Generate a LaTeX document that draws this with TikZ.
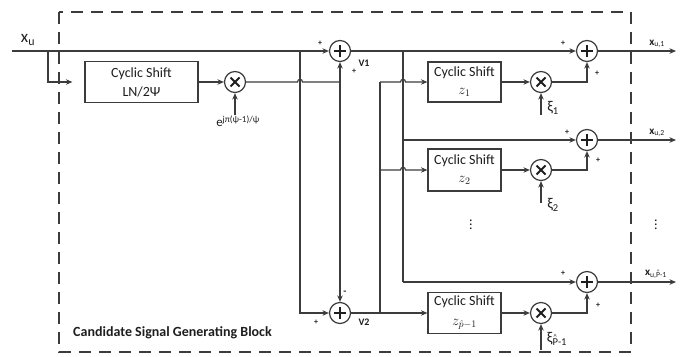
\documentclass[tikz,border=0pt]{standalone}
\usepackage{fontspec}
\setmainfont{Carlito}
\usetikzlibrary{arrows.meta}
\definecolor{lc}{HTML}{3C3C3C}
\definecolor{tc}{HTML}{1E1E1E}
\newcommand\myhatP{\ooalign{P\cr\hidewidth\raisebox{0.5em}{\scalebox{0.7}{\textasciicircum}}\hidewidth\cr}}
\tikzset{
  wire/.style={draw=lc, line width=1.2pt},
  arr/.style={wire, -{Stealth[length=6.5pt,width=5.5pt]}},
  stepbox/.style={draw=lc, line width=1.2pt, fill=white, align=center, inner sep=0pt,
    font=\fontsize{14}{19}\selectfont, text=tc},
  sumnode/.style={circle, draw=lc, fill=white, line width=1.2pt, minimum size=21pt, inner sep=0pt,
    path picture={\draw[line width=1.8pt, tc] (path picture bounding box.center) ++(-6pt,0) -- ++(12pt,0)
      (path picture bounding box.center) ++(0,-6pt) -- ++(0,12pt);}},
  mulnode/.style={circle, draw=lc, fill=white, line width=1.2pt, minimum size=21pt, inner sep=0pt,
    path picture={\draw[line width=1.8pt, tc] (path picture bounding box.center) ++(-4.5pt,-4.5pt) -- ++(9pt,9pt)
      (path picture bounding box.center) ++(-4.5pt,4.5pt) -- ++(9pt,-9pt);}},
  sgn/.style={font=\fontsize{8}{8}\selectfont\bfseries, text=tc, inner sep=0pt},
  lab/.style={font=\fontsize{10}{10}\selectfont\bfseries, text=tc, inner sep=0pt},
  outlab/.style={font=\fontsize{11}{11}\selectfont, text=tc, inner sep=0pt},
  greek/.style={font=\fontsize{15}{15}\selectfont, text=tc, inner sep=0pt},
}
\begin{document}
\begin{tikzpicture}[x=1pt,y=-1pt]
\useasboundingbox (0,0) rectangle (684,356);
% dashed frame
\draw[draw=lc, line width=1.2pt, dash pattern=on 12pt off 8pt] (59,12) rectangle (631,352);
\node[anchor=west, font=\fontsize{14}{14}\selectfont\bfseries, text=tc, inner sep=0pt] (blk) at (73,333) {Candidate Signal Generating Block};

% nodes
\node[stepbox, minimum width=113pt, minimum height=41pt] (B0) at (141.5,82) {Cyclic Shift\\LN/2Ψ};
\node[mulnode] (M0) at (235,82) {};
\node[sumnode] (V1) at (340,51) {};
\node[sumnode] (V2) at (340,313) {};
\node[stepbox, minimum width=73pt, minimum height=40pt] (B1) at (464.5,82) {Cyclic Shift\\[-1pt]$z_1$};
\node[stepbox, minimum width=73pt, minimum height=42pt] (B2) at (464.5,170) {Cyclic Shift\\[-1pt]$z_2$};
\node[stepbox, minimum width=73pt, minimum height=41pt] (B3) at (464.5,313) {Cyclic Shift\\[1pt]$z_{\hat{p}-1}$};
\node[mulnode] (M1) at (541,82) {};
\node[mulnode] (M2) at (541,170) {};
\node[mulnode] (M3) at (541,313) {};
\node[sumnode] (S1) at (587,51) {};
\node[sumnode] (S2) at (587,140) {};
\node[sumnode] (S3) at (587,282) {};

% coordinates
\coordinate (Xin) at (12,51);
\coordinate (j48) at (48,51);
\coordinate (j300) at (300,51);
\coordinate (h300) at (300,82);
\coordinate (j340) at (340,82);
\coordinate (j380) at (380,313);
\coordinate (c380) at (380,82);
\coordinate (j380b) at (380,170);
\coordinate (h403a) at (403,82);
\coordinate (h403b) at (403,170);
\coordinate (j403) at (403,51);
\coordinate (j403b) at (403,140);
\coordinate (c403) at (403,282);
\coordinate (eS) at (235,115);
\coordinate (x1S) at (541,115);
\coordinate (x2S) at (541,203);
\coordinate (x3S) at (541,350);
\coordinate (o1) at (676,51);
\coordinate (o2) at (676,140);
\coordinate (o3) at (676,282);

% connectors
\draw[arr] (Xin) -- (V1);
\draw[arr, shorten >=12pt] (j48) |- (B0.west);
\draw[arr] (B0) -- (M0);
\draw[arr] (eS) -- (M0);
\draw[wire] (M0) -- ([xshift=-2.5pt]h300) .. controls +(0,3.5pt) and +(0,3.5pt) .. ([xshift=2.5pt]h300) -- (j340);
\draw[arr] (j340) -- (V1);
\draw[arr] (j340) -- (V2);
\draw[arr] (j300) |- (V2);
\draw[arr] (V2) -- (B3);
\draw[wire] (j380) -- (c380);
\draw[arr] (c380) -- ([xshift=-2.5pt]h403a) .. controls +(0,3.5pt) and +(0,3.5pt) .. ([xshift=2.5pt]h403a) -- (B1);
\draw[arr] (j380b) -- ([xshift=-2.5pt]h403b) .. controls +(0,3.5pt) and +(0,3.5pt) .. ([xshift=2.5pt]h403b) -- (B2);
\draw[arr] (V1) -- (S1);
\draw[wire] (j403) -- (c403);
\draw[arr] (j403b) -- (S2);
\draw[arr] (c403) -- (S3);
\draw[arr] (B1) -- (M1);
\draw[arr] (B2) -- (M2);
\draw[arr] (B3) -- (M3);
\draw[arr] (x1S) -- (M1);
\draw[arr] (x2S) -- (M2);
\draw[arr] (x3S) -- (M3);
\draw[arr] (M1) -| (S1);
\draw[arr] (M2) -| (S2);
\draw[arr] (M3) -| (S3);
\draw[arr] (S1) -- (o1);
\draw[arr] (S2) -- (o2);
\draw[arr] (S3) -- (o3);

% labels
\node[font=\fontsize{17}{17}\selectfont, text=tc, inner sep=0pt] (xu) at (28,40) {x\textsubscript{u}};
\node[font=\fontsize{13}{13}\selectfont, text=tc, inner sep=0pt] (elab) at (238,121) {e\textsuperscript{jπ(ψ-1)/ψ}};
\node[sgn] (p1) at (320,43) {+};
\node[sgn] (p2) at (354,71) {+};
\node[lab] (v1l) at (364,63) {V1};
\node[sgn, font=\fontsize{10}{10}\selectfont\bfseries] (m2) at (345,293) {-};
\node[sgn] (p3) at (316,322) {+};
\node[lab] (v2l) at (364,322) {V2};
\node[sgn] (q1) at (563,43) {+};
\node[sgn] (q2) at (597,73) {+};
\node[sgn] (q3) at (567,132) {+};
\node[sgn] (q4) at (598,160) {+};
\node[sgn] (q5) at (563,273) {+};
\node[sgn] (q6) at (598,305) {+};
\node[greek] (xi1) at (553,108) {ξ\textsubscript{1}};
\node[greek] (xi2) at (553,205) {ξ\textsubscript{2}};
\node[greek] (xi3) at (557,339) {ξ\textsubscript{\myhatP-1}};
\node[outlab] (ol1) at (657,44) {\textbf{x}\textsubscript{u,1}};
\node[outlab] (ol2) at (657,133) {\textbf{x}\textsubscript{u,2}};
\node[outlab] (ol3) at (656,274) {\textbf{x}\textsubscript{u,\myhatP-1}};
\node[font=\fontsize{14}{14}\selectfont, text=tc, inner sep=0pt] (d1) at (471,222) {$\vdots$};
\node[font=\fontsize{14}{14}\selectfont, text=tc, inner sep=0pt] (d2) at (656,222) {$\vdots$};
\end{tikzpicture}
\end{document}
